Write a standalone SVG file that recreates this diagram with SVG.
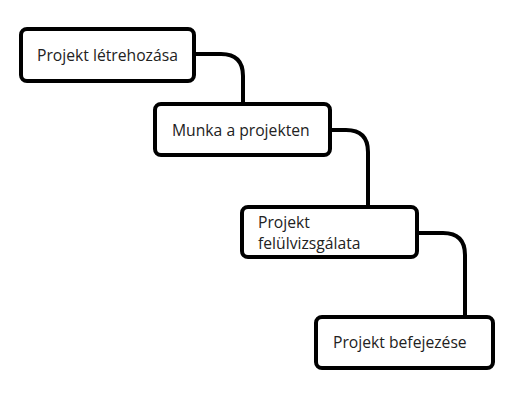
<svg xmlns="http://www.w3.org/2000/svg" width="514" height="408" viewBox="0 0 514 408">
<style>
.node rect{fill:#fff;stroke:#000;stroke-width:4}
.node text{font-family:"Open Sans",sans-serif;font-size:15.7px;fill:#222}
.conn path{fill:none;stroke:#000;stroke-width:4}
</style>
<rect width="514" height="408" fill="#fff"/>
<g class="conn" id="connectors">
<path d="M194 54 H221 Q243 54 243 76 V104"/>
<path d="M330 130 H346 Q368 130 368 152 V207"/>
<path d="M417 233 H443 Q465 233 465 255 V317"/>
</g>
<g class="node" id="n1"><rect x="21" y="29" width="173" height="52" rx="6"/><text x="37" y="61">Projekt létrehozása</text></g>
<g class="node" id="n2"><rect x="155" y="104" width="175" height="51" rx="6"/><text x="172" y="136">Munka a projekten</text></g>
<g class="node" id="n3"><rect x="242" y="207" width="175" height="50" rx="6"/><text x="258" y="228">Projekt</text><text x="258" y="249">felülvizsgálata</text></g>
<g class="node" id="n4"><rect x="316" y="317" width="177" height="51" rx="6"/><text x="333" y="348">Projekt befejezése</text></g>
</svg>
